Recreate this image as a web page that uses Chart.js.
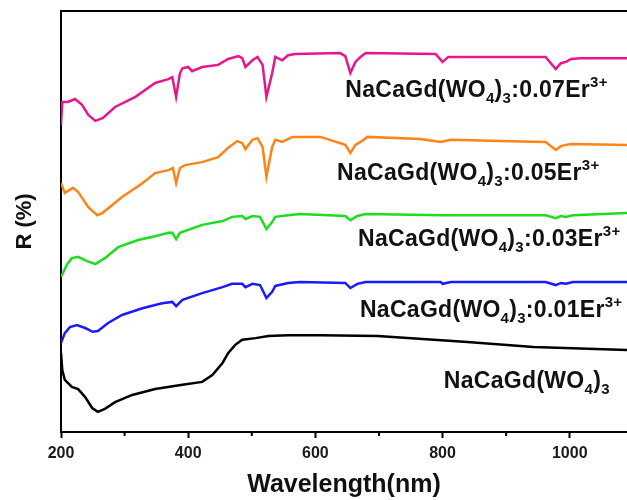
<!DOCTYPE html>
<html>
<head>
<meta charset="utf-8">
<script src="https://cdn.jsdelivr.net/npm/chart.js@4/dist/chart.umd.min.js"></script>
<style>
  body { margin: 0; background: #fff; }
  #box { width: 627px; height: 500px; }
</style>
</head>
<body>
<div id="box"><canvas id="grafico"></canvas></div>
<script>
// wavelength (nm) and reflectance (a.u., stacked) for each sample
const wlPure = [200, 202, 206, 217, 227, 238, 249, 258, 269, 285, 312, 348, 391, 422, 438, 454, 463, 474, 485, 506, 526, 557, 608, 698, 839, 943, 1090];
const rPure  = [18.8, 14.7, 12.4, 10.7, 10.2, 8.3, 5.7, 4.8, 5.5, 7.1, 8.8, 10.2, 11.2, 11.9, 13.5, 16.4, 18.8, 20.7, 21.9, 22.3, 22.8, 23.0, 23.0, 22.8, 21.4, 20.2, 19.5];

const wl001 = [200, 206, 214, 225, 238, 250, 258, 274, 296, 328, 359, 375, 381, 391, 422, 454, 469, 485, 490, 501, 513, 523, 532, 537, 557, 576, 647, 655, 666, 679, 797, 800, 813, 962, 978, 986, 994, 1005, 1090];
const r001  = [21.1, 23.5, 24.9, 25.4, 24.7, 23.8, 24.0, 25.9, 27.8, 29.4, 30.6, 30.9, 29.9, 31.4, 33.0, 34.4, 35.2, 35.2, 34.4, 35.2, 34.9, 31.8, 33.3, 34.7, 35.4, 35.6, 35.4, 34.2, 35.2, 35.6, 35.6, 35.2, 35.6, 35.6, 34.9, 35.4, 35.2, 35.6, 35.6];

const wl003 = [200, 209, 217, 227, 241, 254, 269, 290, 321, 348, 369, 375, 381, 387, 422, 454, 469, 485, 490, 501, 513, 523, 532, 537, 557, 576, 647, 655, 666, 679, 800, 962, 978, 986, 994, 1005, 1090];
const r003  = [36.8, 39.7, 41.3, 41.6, 40.6, 39.9, 41.3, 43.9, 45.6, 46.5, 47.3, 47.3, 45.8, 47.3, 49.2, 50.1, 51.1, 51.3, 50.6, 51.3, 51.1, 48.2, 49.9, 51.1, 51.5, 51.8, 51.3, 50.3, 51.3, 51.8, 51.5, 51.5, 50.8, 51.3, 51.1, 51.5, 52.0];

const wl005 = [200, 206, 219, 227, 243, 257, 265, 296, 328, 348, 369, 376, 381, 387, 395, 422, 447, 463, 477, 485, 490, 501, 509, 517, 523, 532, 537, 548, 564, 608, 647, 655, 663, 671, 682, 765, 797, 813, 891, 962, 978, 986, 994, 1002, 1090];
const r005  = [59.1, 56.8, 58.0, 57.0, 53.4, 51.5, 52.0, 55.8, 59.1, 61.5, 62.2, 62.7, 59.1, 62.7, 63.4, 64.1, 65.3, 67.5, 69.1, 68.6, 67.2, 69.4, 69.8, 67.7, 60.6, 67.7, 69.4, 68.9, 70.1, 70.1, 68.2, 66.3, 68.2, 68.9, 70.1, 69.6, 68.9, 69.4, 69.1, 68.9, 67.0, 67.9, 68.2, 68.4, 68.2];

const wl007 = [200, 202, 211, 222, 233, 243, 254, 266, 285, 317, 348, 369, 375, 381, 387, 391, 400, 406, 422, 447, 463, 479, 485, 490, 501, 509, 517, 523, 532, 537, 548, 557, 568, 639, 647, 655, 663, 671, 679, 789, 800, 809, 891, 962, 978, 986, 994, 1002, 1017, 1090];
const r007  = [72.9, 78.4, 78.4, 79.1, 77.7, 75.3, 73.9, 74.6, 77.2, 79.6, 82.9, 83.8, 84.3, 79.6, 85.2, 86.4, 86.7, 85.7, 86.7, 87.2, 88.6, 89.3, 88.8, 86.7, 88.3, 89.1, 87.2, 79.6, 85.2, 89.1, 88.3, 89.5, 89.8, 90.0, 89.3, 85.3, 87.9, 89.1, 90.0, 89.8, 87.9, 89.1, 89.1, 89.1, 86.2, 87.6, 87.9, 88.6, 88.8, 88.8];

const xTicks = [200, 400, 600, 800, 1000];
const xMinor = [300, 500, 700, 900];

const amostras = ["NaCaGd(WO4)3", "0.01Er", "0.03Er", "0.05Er", "0.07Er"];
const cores = ["#000000", "#1a1aff", "#1edc1e", "#ff8418", "#e8168b"];

function pontos(xs, ys) {
  return xs.map((x, i) => ({ x: x, y: ys[i] }));
}

const series = [
  pontos(wlPure, rPure),
  pontos(wl001, r001),
  pontos(wl003, r003),
  pontos(wl005, r005),
  pontos(wl007, r007)
];

// rotulos das curvas: partes com subscrito / sobrescrito
function rotulo(dop) {
  const p = [{ t: "NaCaGd(WO" }, { t: "4", s: "sub" }, { t: ")" }, { t: "3", s: "sub" }];
  if (dop) {
    p.push({ t: ":" + dop + "Er" });
    p.push({ t: "3+", s: "sup" });
  }
  return p;
}

const rotulos = [
  { partes: rotulo("0.07"), x: 647, y: 79.6 },
  { partes: rotulo("0.05"), x: 634, y: 59.9 },
  { partes: rotulo("0.03"), x: 667, y: 44.2 },
  { partes: rotulo("0.01"), x: 670, y: 27.3 },
  { partes: rotulo(null), x: 802, y: 10.5 }
];

const extras = {
  id: "extras",
  afterDraw(chart) {
    const ctx = chart.ctx;
    const area = chart.chartArea;
    const sx = chart.scales.x;
    const sy = chart.scales.y;
    ctx.save();
    // borda de cima
    ctx.strokeStyle = "#000";
    ctx.lineWidth = 2;
    ctx.beginPath();
    ctx.moveTo(area.left, area.top);
    ctx.lineTo(area.right, area.top);
    ctx.stroke();
    // ticks menores
    xMinor.forEach(v => {
      const px = sx.getPixelForValue(v);
      ctx.beginPath();
      ctx.moveTo(px, area.bottom);
      ctx.lineTo(px, area.bottom + 4);
      ctx.stroke();
    });
    // rotulos
    ctx.fillStyle = "#111";
    ctx.textBaseline = "alphabetic";
    ctx.letterSpacing = "0.3px";
    rotulos.forEach(r => {
      let px = sx.getPixelForValue(r.x);
      const base = sy.getPixelForValue(r.y);
      r.partes.forEach(p => {
        let tam = 23, dy = 0;
        if (p.s === "sub") { tam = 15; dy = 6; }
        if (p.s === "sup") { tam = 15; dy = -10; }
        ctx.font = "bold " + tam + "px 'Liberation Sans', Arial, sans-serif";
        ctx.fillText(p.t, px, base + dy);
        px += ctx.measureText(p.t).width;
      });
    });
    ctx.restore();
  }
};

new Chart(document.getElementById("grafico"), {
  type: "line",
  data: {
    datasets: series.map((d, i) => ({
      label: amostras[i],
      data: d,
      borderColor: cores[i],
      borderWidth: 2.5,
      pointRadius: 0,
      tension: 0,
      fill: false
    }))
  },
  options: {
    responsive: true,
    maintainAspectRatio: false,
    animation: false,
    layout: { padding: { top: 11, right: 0, left: 0, bottom: 0 } },
    plugins: {
      legend: { display: false },
      tooltip: { enabled: false }
    },
    scales: {
      x: {
        type: "linear",
        min: 200,
        max: 1090,
        afterBuildTicks: s => { s.ticks = xTicks.map(v => ({ value: v })); },
        afterFit: s => { s.height = 68; },
        ticks: {
          color: "#1a1a1a",
          font: { family: "'Liberation Sans', Arial", size: 16, weight: "bold" },
          padding: 6,
          maxRotation: 0,
          callback: v => String(v)
        },
        grid: { drawOnChartArea: false, tickLength: 6, tickWidth: 2, tickColor: "#000" },
        border: { color: "#000", width: 2 },
        title: {
          display: true,
          text: "Wavelength(nm)",
          color: "#111",
          font: { family: "'Liberation Sans', Arial", size: 25, weight: "bold" },
          padding: { top: 0, bottom: 0 }
        }
      },
      y: {
        min: 0,
        max: 100,
        afterFit: s => { s.width = 61; },
        ticks: { display: false },
        grid: { drawOnChartArea: false, drawTicks: false },
        border: { color: "#000", width: 2 },
        title: {
          display: true,
          text: "R (%)",
          color: "#111",
          font: { family: "'Liberation Sans', Arial", size: 22, weight: "bold" },
          padding: { top: 12, bottom: 0 }
        }
      }
    }
  },
  plugins: [extras]
});
</script>
</body>
</html>
